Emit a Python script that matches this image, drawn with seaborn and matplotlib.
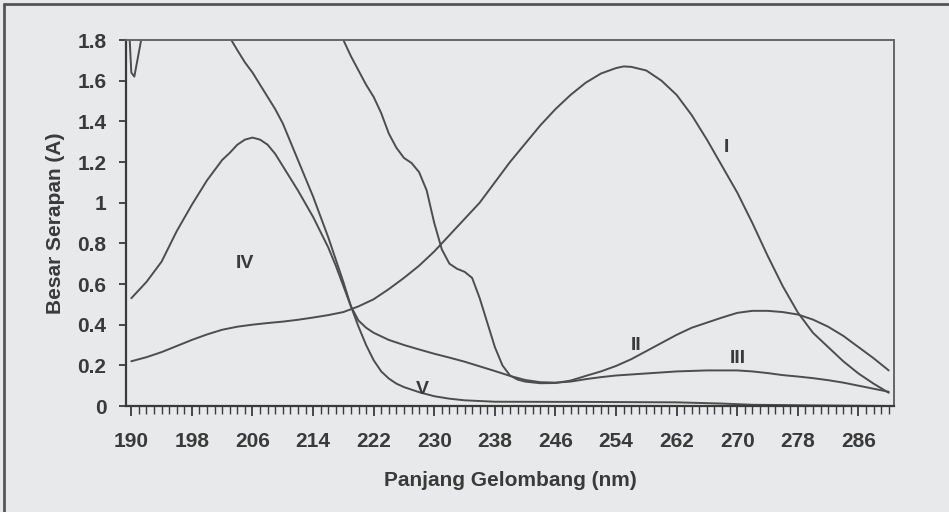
import numpy as np
import pandas as pd
import matplotlib
matplotlib.use("Agg")
import matplotlib.pyplot as plt
import seaborn as sns
from matplotlib.lines import Line2D
from matplotlib.ticker import FuncFormatter, MultipleLocator

# UV spectra (wavelength nm, absorbance A)
curve_i_nm = [190, 192, 194, 196, 198, 200, 202, 204, 206, 208, 210, 212, 214, 216, 218,
              220, 222, 224, 226, 228, 230, 232, 234, 236, 238, 240, 242, 244, 246, 248,
              250, 252, 254, 255, 256, 258, 260, 262, 264, 266, 268, 270, 272, 274, 276,
              278, 280, 282, 284, 286, 288, 290]
curve_i_abs = [0.22, 0.24, 0.265, 0.295, 0.325, 0.352, 0.375, 0.39, 0.40, 0.408, 0.415,
               0.424, 0.435, 0.447, 0.462, 0.49, 0.525, 0.575, 0.63, 0.69, 0.76, 0.84,
               0.92, 1.0, 1.1, 1.2, 1.29, 1.38, 1.46, 1.53, 1.59, 1.635, 1.662, 1.67,
               1.668, 1.65, 1.6, 1.53, 1.43, 1.31, 1.18, 1.05, 0.9, 0.74, 0.59, 0.46,
               0.36, 0.29, 0.22, 0.16, 0.11, 0.065]

curve_ii_nm = [216, 218, 219, 220, 221, 222, 223, 224, 225, 226, 227, 228, 229, 230, 231,
               232, 233, 234, 235, 236, 237, 238, 239, 240, 241, 242, 244, 246, 248, 250,
               252, 254, 256, 258, 260, 262, 264, 266, 268, 270, 272, 274, 276, 278, 280,
               282, 284, 286, 288, 290]
curve_ii_abs = [2.05, 1.8, 1.72, 1.65, 1.58, 1.52, 1.44, 1.34, 1.27, 1.22, 1.195, 1.15,
                1.06, 0.9, 0.77, 0.70, 0.675, 0.66, 0.63, 0.53, 0.41, 0.29, 0.20, 0.15,
                0.13, 0.12, 0.112, 0.113, 0.125, 0.148, 0.17, 0.197, 0.23, 0.27, 0.31,
                0.35, 0.385, 0.41, 0.435, 0.458, 0.468, 0.468, 0.462, 0.45, 0.425, 0.39,
                0.345, 0.29, 0.235, 0.175]

curve_iv_nm = [190, 192, 194, 196, 198, 200, 202, 203, 204, 205, 206, 207, 208, 209, 210,
               212, 214, 216, 217, 218, 219, 220, 221, 222, 224, 226, 228, 230, 232, 234,
               236, 238, 240, 242, 244, 246, 248, 250, 252, 254, 258, 262, 266, 270, 272,
               274, 276, 278, 280, 282, 284, 286, 288, 290]
curve_iv_abs = [0.53, 0.61, 0.71, 0.86, 0.99, 1.11, 1.21, 1.245, 1.285, 1.31, 1.32, 1.31,
                1.285, 1.24, 1.18, 1.06, 0.93, 0.78, 0.69, 0.59, 0.49, 0.42, 0.385, 0.36,
                0.325, 0.30, 0.278, 0.257, 0.238, 0.218, 0.195, 0.172, 0.148, 0.128,
                0.117, 0.115, 0.12, 0.132, 0.142, 0.15, 0.16, 0.17, 0.175, 0.175, 0.17,
                0.162, 0.152, 0.145, 0.137, 0.127, 0.115, 0.10, 0.085, 0.07]

curve_v_nm = [189.4, 190, 190.4, 191.3, 192, 201, 203.2, 204, 205, 206, 207, 208, 209, 210,
              211, 212, 213, 214, 215, 216, 217, 218, 219, 220, 221, 222, 223, 224, 225,
              226, 228, 230, 232, 234, 238, 250, 262, 268, 272, 280, 290]
curve_v_abs = [2.1, 1.64, 1.62, 1.8, 1.95, 2.1, 1.8, 1.75, 1.69, 1.64, 1.58, 1.52, 1.46,
               1.39, 1.30, 1.21, 1.12, 1.03, 0.93, 0.83, 0.72, 0.61, 0.49, 0.39, 0.30,
               0.225, 0.17, 0.135, 0.11, 0.093, 0.068, 0.048, 0.036, 0.028, 0.021, 0.02,
               0.018, 0.012, 0.006, 0.003, 0.0]

curve_labels = ["I", "II", "III", "IV", "V"]
label_nm = [268.6, 256.6, 270.1, 205.0, 228.4]
label_abs = [1.27, 0.30, 0.236, 0.70, 0.08]

x_ticks = list(range(190, 290, 8))
y_ticks = [0, 0.2, 0.4, 0.6, 0.8, 1.0, 1.2, 1.4, 1.6, 1.8]

frames = []
for name, xs, ys in [("I", curve_i_nm, curve_i_abs), ("II", curve_ii_nm, curve_ii_abs),
                     ("IV", curve_iv_nm, curve_iv_abs), ("V", curve_v_nm, curve_v_abs)]:
    frames.append(pd.DataFrame({"wavelength": xs, "absorbance": ys, "curve": name}))
df = pd.concat(frames, ignore_index=True)

BG = "#e8e9ea"
INK = "#3a3a3a"
LINE = "#4d4d4d"

sns.set_theme(style="white")
plt.rcParams["font.family"] = ["Liberation Sans", "DejaVu Sans"]

fig = plt.figure(figsize=(9.49, 5.12), dpi=100, facecolor=BG)
ax = fig.add_axes([126 / 949, 1 - 406 / 512, (894 - 126) / 949, (406 - 40) / 512])
ax.set_facecolor(BG)

sns.lineplot(data=df, x="wavelength", y="absorbance", hue="curve", units="curve",
             estimator=None, palette=[LINE] * 4, linewidth=1.4, legend=False, ax=ax)

ax.set_xlim(189.3, 290.7)
ax.set_ylim(0, 1.8)
ax.set_xticks(x_ticks)
ax.xaxis.set_minor_locator(MultipleLocator(1))
ax.set_yticks(y_ticks)
ax.yaxis.set_major_formatter(FuncFormatter(lambda v, p: f"{v:g}"))

ax.tick_params(axis="x", which="major", bottom=True, direction="out", length=7, width=1.3,
               color=INK, pad=12, labelsize=15, labelcolor=INK)
ax.tick_params(axis="x", which="minor", bottom=True, direction="out", length=6, width=1.0,
               color=INK)
ax.tick_params(axis="y", which="major", left=True, direction="out", length=5, width=1.3,
               color=INK, pad=9, labelsize=15, labelcolor=INK)
for lab in ax.get_xticklabels() + ax.get_yticklabels():
    lab.set_fontweight("bold")

for side in ["left", "bottom"]:
    ax.spines[side].set_color(INK)
    ax.spines[side].set_linewidth(1.6)
for side in ["top", "right"]:
    ax.spines[side].set_color("#666666")
    ax.spines[side].set_linewidth(1.4)

ax.set_xlabel("Panjang Gelombang (nm)", fontsize=15, fontweight="bold", color=INK,
              labelpad=14)
ax.set_ylabel("Besar Serapan (A)", fontsize=15, fontweight="bold", color=INK,
              labelpad=9)

for lbl, lx, ly in zip(curve_labels, label_nm, label_abs):
    ax.text(lx, ly, lbl, fontsize=14, fontweight="bold", color=INK,
            ha="center", va="center")

# scanned-page frame (left and top edges only)
fig.add_artist(Line2D([4 / 949, 4 / 949], [0, 1 - 4 / 512], transform=fig.transFigure,
                      color="#555555", linewidth=2))
fig.add_artist(Line2D([4 / 949, 1], [1 - 4 / 512, 1 - 4 / 512], transform=fig.transFigure,
                      color="#555555", linewidth=2))

fig.savefig("out.png", dpi=100, facecolor=BG)
plt.close(fig)
